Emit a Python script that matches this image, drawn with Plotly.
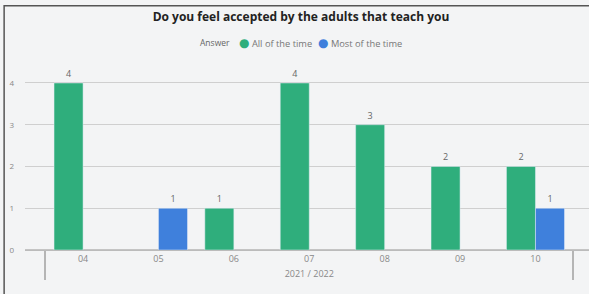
import plotly.graph_objects as go

year = "2021 / 2022"
months = ["04", "05", "06", "07", "08", "09", "10"]
all_of_the_time = [4, None, 1, 4, 3, 2, 2]
most_of_the_time = [None, 1, None, None, None, None, 1]
legend_title = "Answer"
series_names = ["All of the time", "Most of the time"]

x = [[year] * len(months), months]

GREEN = "#2fae7c"
BLUE = "#3f80dc"
FONT = "Open Sans"

fig = go.Figure()
fig.add_trace(go.Bar(x=x, y=all_of_the_time, name=series_names[0], marker_color=GREEN,
                     text=all_of_the_time, textposition="outside",
                     textfont=dict(size=9, color="#666"), cliponaxis=False))
fig.add_trace(go.Bar(x=x, y=most_of_the_time, name=series_names[1], marker_color=BLUE,
                     text=most_of_the_time, textposition="outside",
                     textfont=dict(size=9, color="#666"), cliponaxis=False))


def px_to_paper(px):
    return (px - 25) / 564


LEG_Y = 1.09
dot = '<span style="color:{c};font-size:12px;font-family:DejaVu Sans">●</span> {t}'
annotations = [
    dict(text=legend_title, x=px_to_paper(232), xanchor="right",
         font=dict(size=8.5, color="#666")),
    dict(text=dot.format(c=GREEN, t=series_names[0]), x=px_to_paper(237), xanchor="left",
         font=dict(size=9.3, color="#777")),
    dict(text=dot.format(c=BLUE, t=series_names[1]), x=px_to_paper(316), xanchor="left",
         font=dict(size=9.3, color="#777")),
]
for a in annotations:
    a.update(xref="paper", yref="paper", y=LEG_Y, yanchor="middle", showarrow=False)

fig.update_layout(
    width=589, height=294,
    margin=dict(l=25, r=0, t=60, b=44, autoexpand=False),
    paper_bgcolor="#f3f4f5", plot_bgcolor="#f3f4f5",
    font=dict(family=FONT, size=9, color="#777"),
    title=dict(text="<b>Do you feel accepted by the adults that teach you</b>",
               x=0.511, xanchor="center", y=0.943, yanchor="middle",
               font=dict(family=FONT, size=12, color="#222")),
    barmode="group", bargap=0.23, bargroupgap=0,
    showlegend=False,
    annotations=annotations,
    xaxis=dict(type="multicategory", range=[-0.77, 6.71], showgrid=False, automargin=False,
               showline=True, linecolor="#bbb", linewidth=1,
               dividercolor="#b5b5b5", dividerwidth=2, ticks="",
               tickfont=dict(size=9, color="#888")),
    yaxis=dict(range=[0, 4.55], tickvals=[0, 1, 2, 3, 4], showgrid=True, automargin=False,
               gridcolor="#cfcfcf", gridwidth=1, zeroline=True, zerolinecolor="#c4c4c4",
               tickfont=dict(size=8, color="#888"), ticklabelstandoff=10),
    shapes=[dict(type="rect", xref="paper", yref="paper",
                 x0=-0.037, x1=1.05, y0=-0.3, y1=1.285,
                 line=dict(color="#555", width=1.5), fillcolor="rgba(0,0,0,0)")],
)

fig.write_html("out.html", config={"displayModeBar": False},
               post_script="document.body.style.margin='0';")
